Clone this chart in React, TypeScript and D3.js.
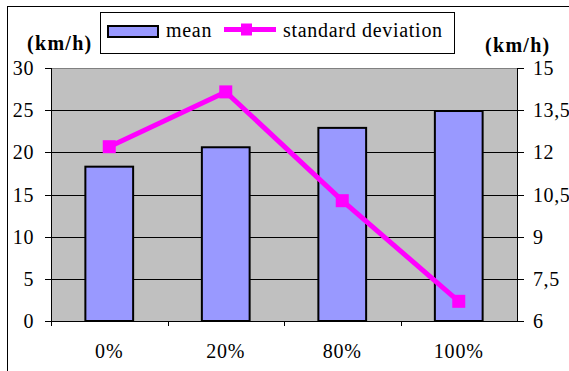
import React from "react";
import * as d3 from "d3";

const categories = ["0%", "20%", "80%", "100%"];
const meanValues = [18.3, 20.6, 22.9, 24.9];
const stdValues = [12.2, 14.15, 10.28, 6.7];
const leftTicks = [0, 5, 10, 15, 20, 25, 30];
const rightTicks = [6, 7.5, 9, 10.5, 12, 13.5, 15];
const rightTickLabels = ["6", "7,5", "9", "10,5", "12", "13,5", "15"];

const W = 569;
const H = 371;
const plot = { left: 51, right: 517, top: 68, bottom: 321 };
const FONT = "Liberation Serif, Times New Roman, Times, serif";

export default function App() {
  const x = d3
    .scaleBand<string>()
    .domain(categories)
    .range([plot.left, plot.right])
    .paddingInner(0.59)
    .paddingOuter(0.295);
  const band = d3.scaleBand<string>().domain(categories).range([plot.left, plot.right]);
  const yL = d3.scaleLinear().domain([0, 30]).range([plot.bottom, plot.top]);
  const yR = d3.scaleLinear().domain([6, 15]).range([plot.bottom, plot.top]);

  const cx = (c: string) => (band(c) as number) + band.bandwidth() / 2;
  const line = d3
    .line<number>()
    .x((_, i) => cx(categories[i]))
    .y((d) => yR(d));

  const marker = 13;
  const txt = { fontFamily: FONT, fontSize: "20px" } as React.CSSProperties;

  return (
    <svg
      width={W}
      height={H}
      style={{ position: "absolute", left: 0, top: 0, background: "#fff", fontFamily: FONT }}
    >
      {/* outer chart frame */}
      <rect x={7.5} y={6.5} width={W + 20} height={H + 20} fill="#fff" stroke="#000" strokeWidth={1} />

      {/* plot area */}
      <rect
        x={plot.left}
        y={plot.top}
        width={plot.right - plot.left}
        height={plot.bottom - plot.top}
        fill="#C0C0C0"
      />
      {leftTicks.slice(1, -1).map((t) => (
        <line key={"g" + t} x1={plot.left} x2={plot.right} y1={Math.round(yL(t)) + 0.5} y2={Math.round(yL(t)) + 0.5} stroke="#000" strokeWidth={1} />
      ))}
      <line x1={plot.left} x2={plot.right} y1={plot.top + 0.5} y2={plot.top + 0.5} stroke="#808080" strokeWidth={1} />

      {/* bars */}
      {categories.map((c, i) => (
        <rect
          key={"b" + c}
          x={x(c)}
          y={yL(meanValues[i])}
          width={x.bandwidth()}
          height={yL(0) - yL(meanValues[i])}
          fill="#9999FF"
          stroke="#000"
          strokeWidth={2}
        />
      ))}

      {/* axes */}
      <line x1={plot.left + 0.5} x2={plot.left + 0.5} y1={plot.top} y2={plot.bottom} stroke="#000" />
      <line x1={plot.right + 0.5} x2={plot.right + 0.5} y1={plot.top} y2={plot.bottom} stroke="#000" />
      <line x1={plot.left} x2={plot.right + 1} y1={plot.bottom + 0.5} y2={plot.bottom + 0.5} stroke="#000" />
      {leftTicks.map((t) => (
        <g key={"lt" + t}>
          <line x1={plot.left - 6} x2={plot.left} y1={Math.round(yL(t)) + 0.5} y2={Math.round(yL(t)) + 0.5} stroke="#000" />
          <text x={34} y={yL(t)} dy="0.35em" textAnchor="end" style={txt} letterSpacing={0.6}>
            {t}
          </text>
        </g>
      ))}
      {rightTicks.map((t, i) => (
        <g key={"rt" + t}>
          <line x1={plot.right} x2={plot.right + 7} y1={Math.round(yR(t)) + 0.5} y2={Math.round(yR(t)) + 0.5} stroke="#000" />
          <text x={533} y={yR(t)} dy="0.35em" textAnchor="start" style={txt} letterSpacing={0.6}>
            {rightTickLabels[i]}
          </text>
        </g>
      ))}
      {categories.map((c) => (
        <line
          key={"xt" + c}
          x1={Math.round(band(c) as number) + 0.5}
          x2={Math.round(band(c) as number) + 0.5}
          y1={plot.bottom}
          y2={plot.bottom + 5}
          stroke="#000"
        />
      ))}
      {categories.map((c) => (
        <text key={"xl" + c} x={cx(c)} y={358} textAnchor="middle" style={txt} letterSpacing={0.8}>
          {c}
        </text>
      ))}

      {/* standard deviation line */}
      <path d={line(stdValues) || ""} fill="none" stroke="#FF00FF" strokeWidth={5} strokeLinejoin="miter" />
      {stdValues.map((v, i) => (
        <rect
          key={"m" + i}
          x={cx(categories[i]) - marker / 2}
          y={yR(v) - marker / 2}
          width={marker}
          height={marker}
          fill="#FF00FF"
        />
      ))}

      {/* axis unit labels */}
      <text x={27} y={50} style={{ ...txt, fontWeight: "bold" }} letterSpacing={1.3}>
        (km/h)
      </text>
      <text x={485} y={52} style={{ ...txt, fontWeight: "bold" }} letterSpacing={1.3}>
        (km/h)
      </text>

      {/* legend */}
      <rect x={100.5} y={12.5} width={354} height={41} fill="#fff" stroke="#000" strokeWidth={1} />
      <rect x={108} y={26} width={50} height={11} fill="#9999FF" stroke="#000" strokeWidth={2} />
      <text x={166} y={37} style={txt} letterSpacing={0.7}>
        mean
      </text>
      <line x1={224} x2={276} y1={29.5} y2={29.5} stroke="#FF00FF" strokeWidth={5} />
      <rect x={241} y={23.5} width={11} height={12} fill="#FF00FF" />
      <text x={283} y={37} style={txt} letterSpacing={0.7}>
        standard deviation
      </text>
    </svg>
  );
}
